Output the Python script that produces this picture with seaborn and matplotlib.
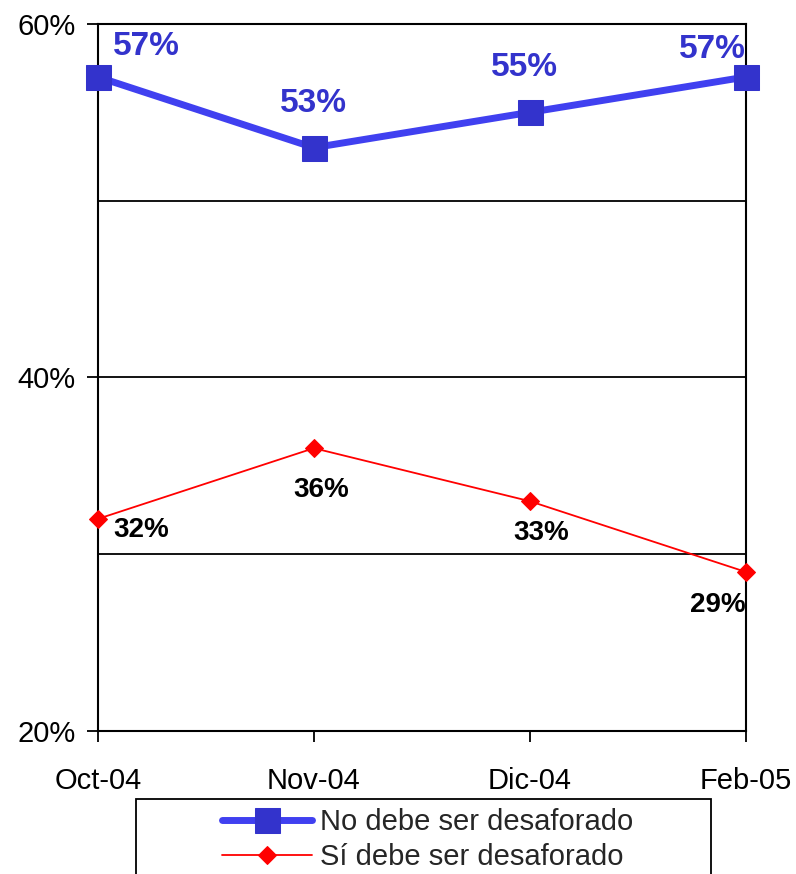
import numpy as np
import pandas as pd
import matplotlib.pyplot as plt
import matplotlib.patches as mpatches
from matplotlib.ticker import FixedLocator
import seaborn as sns

months = ["Oct-04", "Nov-04", "Dic-04", "Feb-05"]
no_debe = [57, 53, 55, 57]
si_debe = [32, 36, 33, 29]
series_names = ["No debe ser desaforado", "Sí debe ser desaforado"]

# label offsets in points, relative to each point
no_offsets = [(35, 22), (0, 32), (-4, 32), (-24, 20)]
si_offsets = [(31, -8), (5, -30), (8, -23), (-20, -24)]

sns.set_style("white")
plt.rcParams["font.family"] = ["Liberation Sans", "DejaVu Sans"]

fig = plt.figure(figsize=(7.96, 8.74), dpi=100)
ax = fig.add_axes([0.123, 0.1636, 0.814, 0.809])

df = pd.DataFrame({"mes": months, "no": no_debe, "si": si_debe})

sns.lineplot(data=df, x="mes", y="no", ax=ax, color="#4040f0", lw=5,
             marker="s", markersize=18, markerfacecolor="#3333cc",
             markeredgecolor="#3333cc", label=series_names[0], sort=False,
             zorder=4, clip_on=False)
sns.lineplot(data=df, x="mes", y="si", ax=ax, color="#ff0000", lw=1.3,
             marker="D", markersize=9, markerfacecolor="#ff0000",
             markeredgecolor="#ff0000", label=series_names[1], sort=False,
             zorder=4, clip_on=False)

for i, v in enumerate(no_debe):
    ax.annotate(f"{v}%", (i, v), xytext=no_offsets[i], textcoords="offset points",
                ha="center", va="center", fontsize=24, fontweight="bold",
                color="#3333cc", zorder=5)
for i, v in enumerate(si_debe):
    ax.annotate(f"{v}%", (i, v), xytext=si_offsets[i], textcoords="offset points",
                ha="center", va="center", fontsize=20, fontweight="bold",
                color="black", zorder=5)

ax.set_xlim(0, 3)
ax.set_ylim(20, 60)
ax.set_yticks([20, 40, 60])
ax.set_yticklabels(["20%", "40%", "60%"])
ax.yaxis.set_minor_locator(FixedLocator([30, 50]))
ax.grid(axis="y", which="both", color="black", lw=1.3)
ax.set_axisbelow(True)
ax.set_xlabel("")
ax.set_ylabel("")

for s in ax.spines.values():
    s.set_visible(True)
    s.set_color("black")
    s.set_linewidth(1.5)

ax.tick_params(axis="both", which="major", direction="out", length=8, width=1.3,
               labelsize=21, colors="black", left=True, bottom=True)
ax.tick_params(axis="y", which="minor", length=0)
ax.tick_params(axis="x", pad=18)
ax.tick_params(axis="y", pad=8)

# legend frame drawn separately so it can be wider than its content
fig.patches.append(mpatches.Rectangle((0.1709, -0.02), 0.7223, 0.1058,
                                      transform=fig.transFigure, fill=False,
                                      edgecolor="black", lw=1.3))
ax.legend(loc="upper left", bbox_to_anchor=(222 / 796, 1 - 808 / 874),
          bbox_transform=fig.transFigure, frameon=False, fontsize=21,
          handlelength=3.1, handletextpad=0.25, borderpad=0, borderaxespad=0,
          labelspacing=0.25)

fig.savefig("out.png", dpi=100)
